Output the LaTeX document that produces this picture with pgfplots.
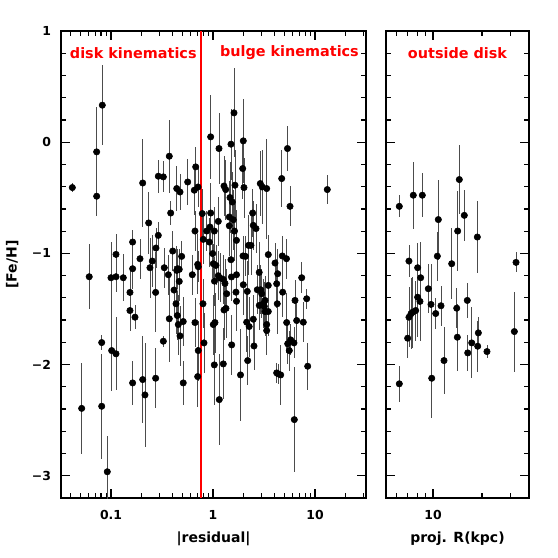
\documentclass[border=0pt]{standalone}
\usepackage{fontspec}
\setmainfont{DejaVu Sans}
\usepackage{pgfplots}
\usepackage{pgfplotstable}
\pgfplotsset{compat=1.18}

\pgfplotstableread{
x y e
0.0418 -0.408 0.04
0.0724 -0.087 0.40
0.0724 -0.486 0.18
0.0822 0.333 0.36
0.2046 -0.367 0.40
0.2343 -0.726 0.28
0.291 -0.306 0.15
0.326 -0.312 0.14
0.373 -0.126 0.33
0.385 -0.637 0.11
0.441 -0.417 0.20
0.475 -0.448 0.16
0.565 -0.358 0.21
0.677 -0.222 0.18
0.656 -0.432 0.22
0.713 -0.403 0.18
0.666 -0.799 0.18
0.717 -1.120 0.14
0.291 -0.838 0.12
0.276 -0.952 0.18
0.254 -1.069 0.23
0.241 -1.129 0.27
0.1925 -1.048 0.18
0.163 -0.898 0.11
0.163 -1.138 0.18
0.112 -1.009 0.18
0.403 -0.979 0.18
0.333 -1.129 0.18
0.493 -1.027 0.14
0.451 -1.138 0.18
0.0612 -1.210 0.29
0.100 -1.219 0.32
0.112 -1.210 0.14
0.132 -1.219 0.21
0.1016 -1.874 0.36
0.112 -1.903 0.33
0.0811 -1.802 0.07
0.0811 -2.375 0.47
0.0516 -2.394 0.41
0.092 -2.964 0.32
0.1535 -1.351 0.21
0.1535 -1.514 0.18
0.172 -1.574 0.11
0.163 -2.165 0.20
0.2046 -2.135 0.39
0.2155 -2.273 0.47
0.274 -1.351 0.36
0.274 -2.123 0.27
0.326 -1.790 0.05
0.365 -1.192 0.18
0.373 -1.588 0.39
0.415 -1.330 0.22
0.434 -1.453 0.27
0.441 -1.153 0.22
0.467 -1.144 0.18
0.467 -1.252 0.18
0.447 -1.559 0.22
0.457 -1.640 0.27
0.475 -1.742 0.27
0.511 -1.613 0.22
0.511 -2.165 0.20
0.627 -1.192 0.18
0.666 -1.622 0.22
0.717 -1.874 0.27
0.708 -2.108 0.27
0.708 -1.099 0.27
0.785 -0.642 0.22
0.949 0.048 0.38
1.145 -0.057 0.32
0.949 -0.637 0.27
1.127 -0.712 0.22
0.867 -0.799 0.18
0.934 -0.763 0.22
0.803 -0.874 0.22
0.920 -0.898 0.22
0.993 -1.002 0.22
1.030 -0.799 0.22
1.007 -1.093 0.18
1.070 -1.108 0.18
1.607 0.264 0.40
1.501 -0.018 0.32
1.982 0.012 0.38
1.955 -0.237 0.27
2.013 -0.408 0.27
1.282 -0.394 0.27
1.332 -0.426 0.27
1.643 -0.387 0.32
1.468 -0.498 0.32
1.546 -0.538 0.27
1.445 -0.673 0.32
1.581 -0.698 0.27
1.445 -0.752 0.27
1.625 -0.799 0.27
1.700 -0.883 0.27
2.449 -0.637 0.22
2.484 -0.748 0.22
2.640 -0.777 0.22
2.229 -0.928 0.27
2.357 -0.928 0.27
1.501 -1.057 0.27
1.968 -1.023 0.18
2.083 -1.027 0.18
2.909 -0.372 0.29
3.043 -0.403 0.33
3.361 -0.417 0.45
4.716 -0.327 0.26
5.374 -0.057 0.20
5.69 -0.577 0.18
3.484 -1.011 0.18
4.055 -1.087 0.18
4.778 -1.023 0.18
5.255 -1.048 0.18
13.2 -0.426 0.13
1.034 -1.250 0.22
1.127 -1.201 0.22
1.171 -1.221 0.22
1.262 -1.234 0.22
1.311 -1.270 0.22
1.362 -1.363 0.22
1.282 -1.509 0.27
1.341 -1.495 0.27
1.007 -1.640 0.27
1.046 -1.622 0.27
0.798 -1.453 0.22
0.816 -1.805 0.27
1.030 -2.003 0.36
1.262 -1.994 0.32
1.153 -2.315 0.41
1.518 -1.212 0.22
1.700 -1.192 0.22
1.680 -1.349 0.27
1.700 -1.431 0.27
1.525 -1.823 0.27
1.982 -1.282 0.27
2.169 -1.342 0.27
2.139 -1.619 0.27
2.264 -1.658 0.27
2.484 -1.592 0.22
2.188 -1.964 0.22
2.523 -1.833 0.22
1.861 -2.093 0.41
2.838 -1.171 0.27
2.718 -1.327 0.22
2.935 -1.327 0.22
3.003 -1.363 0.22
2.844 -1.468 0.22
3.112 -1.453 0.22
3.236 -1.423 0.22
3.236 -1.523 0.22
3.484 -1.523 0.22
3.361 -1.640 0.22
3.361 -1.694 0.22
3.184 -1.477 0.22
3.484 -1.288 0.22
4.212 -1.273 0.22
4.307 -1.183 0.22
4.267 -1.453 0.27
4.823 -1.349 0.22
4.212 -2.075 0.09
4.366 -2.084 0.09
4.610 -2.093 0.27
5.278 -1.622 0.27
5.40 -1.813 0.18
5.60 -1.874 0.18
5.78 -1.778 0.14
6.22 -1.805 0.14
6.37 -1.423 0.18
6.615 -1.604 0.18
7.41 -1.219 0.14
7.68 -1.619 0.18
8.29 -1.408 0.09
8.48 -2.015 0.21
6.27 -2.495 0.47
}\leftdata

\pgfplotstableread{
x y e
6.214 -0.577 0.10
7.57 -0.477 0.30
8.60 -0.477 0.20
10.78 -0.696 0.36
14.50 -0.336 0.31
14.17 -0.799 0.36
15.56 -0.658 0.23
18.70 -0.853 0.32
7.12 -1.069 0.14
8.05 -1.129 0.22
10.63 -1.025 0.22
13.02 -1.093 0.32
32.3 -1.081 0.09
8.40 -1.219 0.32
9.36 -1.318 0.22
8.05 -1.394 0.36
8.32 -1.432 0.36
7.83 -1.514 0.27
7.507 -1.529 0.32
7.33 -1.543 0.32
7.12 -1.574 0.27
6.99 -1.763 0.18
9.72 -1.459 0.36
10.39 -1.541 0.14
11.196 -1.471 0.18
13.98 -1.493 0.18
14.10 -1.754 0.30
16.23 -1.423 0.16
16.33 -1.895 0.16
17.28 -1.805 0.32
18.80 -1.835 0.23
18.97 -1.715 0.14
21.43 -1.883 0.06
31.54 -1.703 0.36
11.68 -1.964 0.30
9.82 -2.123 0.36
6.214 -2.173 0.16
}\rightdata

\pgfplotsset{
  feh/.style={
    scale only axis,
    height=350.25pt,
    ymin=-3.2, ymax=1,
    ytick={-3,-2,-1,0,1},
    minor ytick={-3.2,-2.8,-2.6,-2.4,-2.2,-1.8,-1.6,-1.4,-1.2,-0.8,-0.6,-0.4,-0.2,0.2,0.4,0.6,0.8},
    major tick length=6.75pt,
    minor tick length=3.4pt,
    tick align=inside,
    axis line style={line width=0.9pt},
    every tick/.style={black, line width=0.9pt},
    tick label style={font=\bfseries\fontsize{9.3}{11}\selectfont},
    xticklabel style={yshift=-5.5pt},
    yticklabel style={xshift=-4pt},
    every axis x label/.style={at={(axis description cs:0.5,-0.088)}, anchor=center, font=\bfseries\fontsize{10.5}{12}\selectfont},
  },
  pts/.style={
    only marks, mark=*, mark size=2.4pt,
    mark options={draw=black, fill=black},
    error bars/.cd, y dir=both, y explicit,
    error mark=none,
    error bar style={line width=0.6pt, black!70},
  },
}

\begin{document}
\begin{tikzpicture}
\useasboundingbox (0,0) rectangle (418.5pt,418.5pt);
\begin{axis}[
  xmode=log,
  feh,
  at={(45.75pt,45pt)}, anchor=south west,
  width=228.75pt,
  xmin=0.03236, xmax=31.62,
  xtick={0.1,1,10}, xticklabels={0.1,1,10},
  minor xtick={0.04,0.05,0.06,0.07,0.08,0.09,0.2,0.3,0.4,0.5,0.6,0.7,0.8,0.9,2,3,4,5,6,7,8,9,20,30},
  yticklabels={−3,−2,−1,0,1},
  xlabel={|residual|},
  ylabel={[Fe/H]},
  every axis y label/.style={at={(axis description cs:-0.16,0.5)}, anchor=center, rotate=90, font=\bfseries\fontsize{10.5}{12}\selectfont},
]
\addplot[pts] table[x=x, y=y, y error=e] {\leftdata};
\addplot[red, line width=1.5pt] coordinates {(0.76,-3.2) (0.76,1)};
\node[red, font=\bfseries\fontsize{10.8}{12}\selectfont, anchor=west] at (rel axis cs:0.014,0.953) {disk kinematics};
\node[red, font=\bfseries\fontsize{10.8}{12}\selectfont, anchor=west] at (rel axis cs:0.506,0.953) {bulge kinematics};
\end{axis}
\begin{axis}[
  xmode=log,
  feh,
  at={(289.5pt,45pt)}, anchor=south west,
  width=107.25pt,
  xmin=5.149, xmax=38.8,
  xtick={10}, xticklabels={10},
  minor xtick={6,7,8,9,20,30},
  yticklabels={},
  xlabel={proj. R(kpc)},
]
\addplot[pts] table[x=x, y=y, y error=e] {\rightdata};
\node[red, font=\bfseries\fontsize{10.8}{12}\selectfont, anchor=center] at (rel axis cs:0.5,0.953) {outside disk};
\end{axis}
\end{tikzpicture}
\end{document}
